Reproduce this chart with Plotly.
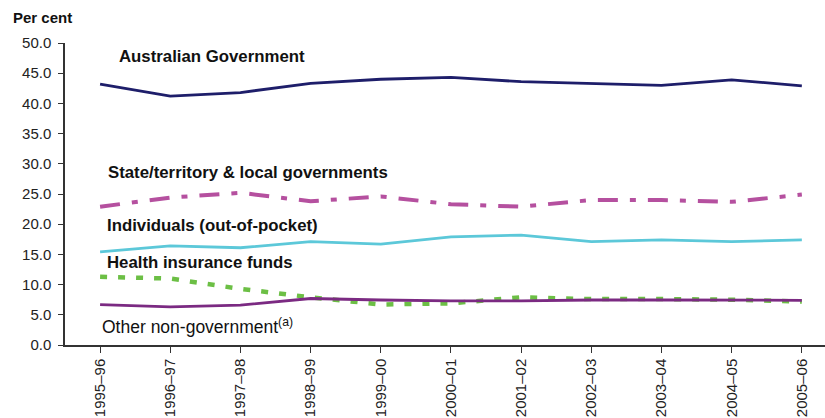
import plotly.graph_objects as go

years = ["1995–96", "1996–97", "1997–98", "1998–99", "1999–00", "2000–01",
         "2001–02", "2002–03", "2003–04", "2004–05", "2005–06"]
aus_gov = [43.2, 41.2, 41.8, 43.3, 44.0, 44.3, 43.6, 43.3, 43.0, 43.9, 42.9]
state_local = [22.9, 24.4, 25.2, 23.8, 24.6, 23.3, 22.9, 24.0, 24.0, 23.7, 24.9]
individuals = [15.4, 16.4, 16.1, 17.1, 16.7, 17.9, 18.2, 17.1, 17.4, 17.1, 17.4]
health_ins = [11.3, 11.0, 9.3, 7.9, 6.7, 6.9, 7.9, 7.6, 7.6, 7.5, 7.2]
other_nongov = [6.7, 6.3, 6.6, 7.7, 7.45, 7.3, 7.3, 7.45, 7.45, 7.45, 7.4]
yticks = [0, 5, 10, 15, 20, 25, 30, 35, 40, 45, 50]

FONT = "Arial, Liberation Sans, sans-serif"
x = list(range(len(years)))
fig = go.Figure()
fig.add_trace(go.Scatter(x=x, y=health_ins, mode="lines",
                         line=dict(color="#6cbf45", width=4.5, dash="7px,11px")))
fig.add_trace(go.Scatter(x=x, y=other_nongov, mode="lines",
                         line=dict(color="#7b2a82", width=2.8)))
fig.add_trace(go.Scatter(x=x, y=individuals, mode="lines",
                         line=dict(color="#5cc8d9", width=2.8)))
fig.add_trace(go.Scatter(x=x, y=state_local, mode="lines",
                         line=dict(color="#b5509f", width=4, dash="20px,12px,6px,12px")))
fig.add_trace(go.Scatter(x=x, y=aus_gov, mode="lines",
                         line=dict(color="#1e1e6a", width=2.8)))

notes = [
    (0.24, 47.7, "<b>Australian Government</b>", 16.8),
    (0.08, 28.6, "<b>State/territory &amp; local governments</b>", 16.8),
    (0.07, 19.8, "<b>Individuals (out-of-pocket)</b>", 16.8),
    (0.07, 13.6, "<b>Health insurance funds</b>", 16.8),
    (0.0, 3.2, "Other non-government<sup>(a)</sup>", 17.5),
]
for xx, yy, t, sz in notes:
    fig.add_annotation(x=xx, y=yy, xref="x", yref="y", text=t, showarrow=False,
                       xanchor="left", yanchor="middle",
                       font=dict(family=FONT, size=sz, color="#111"))
fig.add_annotation(x=0, y=1, xref="paper", yref="paper", xshift=-54, yshift=26,
                   text="<b>Per cent</b>", showarrow=False, xanchor="left",
                   yanchor="middle", font=dict(family=FONT, size=15, color="#111"))

fig.update_layout(
    width=825, height=418, margin=dict(l=65, r=0, t=43, b=73),
    paper_bgcolor="white", plot_bgcolor="white", showlegend=False,
    font=dict(family=FONT, color="#222"),
)
fig.update_xaxes(range=[-0.5, 10.33], tickvals=x, ticktext=years, tickangle=-90,
                 tickson="boundaries", ticks="outside", ticklen=6, tickcolor="#333",
                 showline=True, linecolor="#333", linewidth=1.5, showgrid=False,
                 zeroline=False, tickfont=dict(size=15, color="#222"))
fig.update_yaxes(range=[0, 50], tickvals=yticks, ticktext=[f"{v:.1f}" for v in yticks],
                 ticks="outside", ticklen=5, tickcolor="#333", showline=True,
                 linecolor="#333", linewidth=1.5, showgrid=False, zeroline=False,
                 ticklabelstandoff=4, tickfont=dict(size=15, color="#222"))
fig.write_html("out.html")
